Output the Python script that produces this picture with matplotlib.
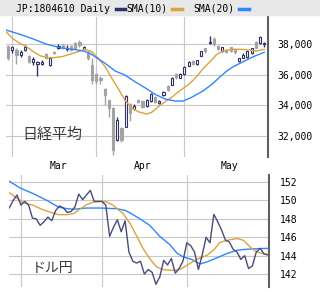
import matplotlib
matplotlib.use("Agg")
import matplotlib.pyplot as plt
from matplotlib.lines import Line2D
from matplotlib.patches import Rectangle

# --- Nikkei daily candles (index 0 = Feb 28 ... 61 = May 30) ---
nk_open = [37880, 37580, 37580, 37270, 37620, 37190, 36840, 36690, 36720, 37340,
           36640, 37490, 37710, 37900, 37650, 37850, 38050, 38140, 37670, 37380,
           36650, 36020, 35800, 35060, 34350, 33830, 31750, 32550, 32620, 34100,
           33750, 34350, 34290, 33960, 34290, 34560, 34140, 34700, 35280, 35320,
           36040, 35780, 36020, 36580, 36900, 36700, 37230, 37710, 38030, 38300,
           37860, 37550, 37600, 37800, 37640, 36880, 37060, 37160, 37380, 38140,
           38030, 37960]
nk_high = [37950, 37880, 37710, 37580, 37920, 37250, 37160, 36880, 36970, 37400,
           37150, 37530, 38000, 37980, 37920, 37900, 38100, 38230, 37850, 37500,
           37050, 36100, 35900, 35150, 34350, 33900, 33250, 32600, 34650, 34150,
           34100, 34400, 34350, 34400, 34780, 34600, 34350, 34950, 35300, 35850,
           36100, 36100, 36550, 36900, 36950, 36950, 37560, 37750, 38530, 38420,
           37900, 37800, 37650, 37820, 37650, 37100, 37400, 37560, 37750, 38200,
           38480, 38140]
nk_low = [36980, 37380, 36670, 37160, 37530, 36780, 36620, 35930, 36620, 37000,
          36560, 37330, 37650, 37650, 37550, 37550, 37650, 37800, 37600, 36950,
          35400, 35390, 35400, 34020, 33260, 30800, 31700, 31600, 32600, 33000,
          33700, 34150, 33850, 33900, 34250, 34150, 34100, 34600, 34950, 35300,
          35700, 35750, 35980, 36550, 36600, 36620, 37200, 37400, 38000, 37850,
          37600, 37480, 37400, 37440, 37350, 36850, 37050, 37100, 37350, 37700,
          38000, 37810]
nk_close = [37100, 37790, 37270, 37450, 37790, 36840, 37030, 36840, 36830, 37080,
            37080, 37380, 37860, 37730, 37720, 37600, 37710, 37920, 37800, 37100,
            35620, 35580, 35650, 34680, 33810, 31100, 33050, 31750, 34610, 33500,
            33980, 34240, 33920, 34350, 34740, 34200, 34290, 34870, 35000, 35750,
            35840, 36040, 36510, 36840, 36670, 36930, 37530, 37500, 38120, 38000,
            37640, 37770, 37450, 37500, 37450, 37080, 37300, 37530, 37710, 37720,
            38420, 38060]

# Nikkei moving averages (candle index, value)
nk_sma10_x = [-0.5, 1.2, 2.8, 4.4, 6.0, 7.6, 9.2, 10.8, 12.8, 14.7, 16.7, 18.3,
              19.9, 21.5, 23.1, 24.7, 26.2, 27.8, 29.4, 31.0, 33.0, 34.2, 35.8,
              37.4, 39.0, 40.1, 41.7, 43.3, 44.9, 46.5, 48.1, 49.7, 51.2, 53.2,
              55.2, 57.6, 59.2, 61.0]
nk_sma10 = [38786, 38312, 38030, 37812, 37487, 37227, 37098, 37098, 37162, 37318,
            37487, 37650, 37487, 37058, 36513, 35760, 35110, 34350, 33850, 33590,
            33441, 33550, 33915, 34240, 34530, 34785, 35110, 35435, 35863, 36409,
            36838, 37318, 37532, 37643, 37643, 37597, 37532, 37643]
nk_sma20_x = [-0.5, 2.8, 6.0, 9.2, 12.4, 15.5, 17.9, 19.5, 20.7, 23.1, 25.5, 27.8,
              30.2, 32.6, 35.0, 37.4, 39.7, 41.7, 43.7, 46.5, 48.9, 50.5, 52.1,
              53.6, 56.0, 58.4, 61.0]
nk_sma20 = [38896, 38617, 38312, 37968, 37747, 37643, 37532, 37383, 37162, 36734,
            36234, 35974, 35539, 35149, 34720, 34415, 34285, 34285, 34525, 34950,
            35450, 35863, 36234, 36513, 36838, 37162, 37448]

# --- USD/JPY daily close (index 0 = Mar 3, weekdays, -3 = Feb 26) ---
fx_x = list(range(-3, 65))
fx_close = [149.2, 150.0, 150.6, 149.5, 149.9, 149.5, 148.1, 148.0, 147.3, 147.7,
            148.2, 147.8, 148.9, 149.4, 149.2, 148.7, 148.8, 149.3, 150.7, 150.1,
            150.6, 151.1, 149.9, 149.9, 149.9, 149.5, 146.1, 147.1, 147.9, 146.6,
            147.8, 144.4, 143.4, 143.2, 143.4, 142.0, 142.5, 142.2, 140.9, 141.7,
            143.5, 143.0, 143.7, 142.1, 142.6, 143.4, 145.4, 145.1, 144.4, 142.5,
            144.1, 146.0, 145.4, 148.5, 147.7, 146.8, 145.7, 145.5, 144.7, 144.4,
            143.6, 144.0, 142.6, 142.9, 144.4, 144.8, 144.2, 144.1]
fx_sma10_x = [-3, -1.1, 0.6, 3.2, 5.4, 7.5, 9.7, 11.9, 13.6, 15.3, 17, 18.9, 20.9,
              22.2, 23.9, 26.5, 28.3, 30, 31.7, 33.5, 35.2, 37, 39.5, 41.3, 43,
              45.6, 48.2, 49.9, 51.6, 53.4, 56, 57.7, 59.4, 61.2, 62.9, 64]
fx_sma10 = [150.85, 150.27, 149.76, 149.48, 149.05, 148.75, 148.46, 148.46, 148.57,
            149.05, 149.54, 149.84, 149.91, 149.84, 149.48, 148.57, 147.5, 146.15,
            144.76, 143.61, 142.77, 142.48, 142.41, 142.52, 142.96, 143.61, 144.04,
            144.59, 145.45, 145.67, 145.87, 145.67, 144.95, 144.40, 144.22, 144.06]
fx_sma20_x = [-3, -0.2, 3.2, 6.7, 9.7, 11.9, 13.6, 17, 20.5, 24.8, 27, 28.5, 30.8,
              33.4, 36, 38.6, 40.4, 42.1, 44.2, 46.4, 48.2, 50.7, 53.3, 55.9, 58.5,
              61.1, 64]
fx_sma20 = [152.09, 151.36, 150.74, 150.02, 149.29, 149.11, 149.05, 149.18, 149.18,
            149.11, 148.93, 148.6, 148.02, 147.30, 146.1, 145.20, 144.3, 143.86,
            143.61, 143.1, 143.32, 143.75, 144.22, 144.59, 144.70, 144.76, 144.80]

nk_month_starts = [1, 21, 42]
fx_month_starts = [0, 21, 43]
month_labels = ["Mar", "Apr", "May"]
nk_yticks = [32000, 34000, 36000, 38000]
fx_yticks = [142, 144, 146, 148, 150, 152]

NAVY = "#31316a"
FXNAVY = "#4a4a7c"
GRAY = "#a3a3a3"
ORANGE = "#d9a33f"
BLUE = "#2f86ff"
GRID = "#c8c8c8"

plt.rcParams["font.family"] = ["DejaVu Sans Mono"]
plt.rcParams["font.size"] = 7

W, H = 320, 292
fig = plt.figure(figsize=(W / 100, H / 100), dpi=100)


def box(x0, y0, x1, y1):
    return [x0 / W, 1 - y1 / H, (x1 - x0) / W, (y1 - y0) / H]


def style(ax, month_pos, yticks, fmt):
    for s in ["left", "top", "bottom"]:
        ax.spines[s].set_visible(False)
    ax.spines["right"].set_color("#606060")
    ax.spines["right"].set_linewidth(1.5)
    ax.yaxis.tick_right()
    ax.set_yticks(yticks)
    ax.set_yticklabels([fmt(v) for v in yticks])
    ax.set_xticks(month_pos)
    ax.set_xticklabels([])
    ax.tick_params(axis="both", which="major", length=0)
    ax.tick_params(axis="y", pad=7, labelsize=7)
    ax.grid(True, which="major", color=GRID, lw=0.8)
    ax.set_axisbelow(True)


# header band with legend
fig.patches.append(Rectangle((0, 1 - 15 / H), 1, 15 / H, transform=fig.transFigure,
                             color="#e8e8e8", zorder=0))
hy = 1 - 8.5 / H
fig.text(16 / W, hy, "JP:1804610 Daily", va="center", ha="left", fontsize=7)
fig.text(126 / W, hy, "SMA(10)", va="center", ha="left", fontsize=7)
fig.text(193 / W, hy, "SMA(20)", va="center", ha="left", fontsize=7)
for (a, b), c in zip([(116, 125), (172, 182), (239, 249)], [NAVY, ORANGE, BLUE]):
    fig.lines.append(Line2D([a / W, b / W], [hy, hy], transform=fig.transFigure,
                            color=c, lw=2.5))

# --- Nikkei panel ---
ax1 = fig.add_axes(box(6, 17, 268, 157))
style(ax1, nk_month_starts, nk_yticks, lambda v: f"{v:,}")
ax1.set_xlim(-0.5, 61.9)
ax1.set_ylim(30650, 39740)

idx = list(range(len(nk_close)))
for i in idx:
    o, h, l, c = nk_open[i], nk_high[i], nk_low[i], nk_close[i]
    up = c >= o
    col = NAVY if up else GRAY
    ax1.vlines(i, l, h, color=col, lw=1.0, zorder=2)
    bot = min(o, c)
    hgt = max(abs(c - o), 40)
    ax1.bar(i, hgt, bottom=bot, width=0.5, color="white" if up else GRAY,
            edgecolor=col, lw=0.8, zorder=3)

ax1.plot(nk_sma10_x, nk_sma10, color=ORANGE, lw=1.0, zorder=4)
ax1.plot(nk_sma20_x, nk_sma20, color=BLUE, lw=1.0, zorder=4)

ax1.set_xticks([11.9, 32, 52.8], minor=True)
ax1.set_xticklabels(month_labels, minor=True)
ax1.tick_params(axis="x", which="minor", length=0, pad=3, labelsize=7)

fig.text(22 / W, 1 - 135 / H, "日経平均", va="center", ha="left", fontsize=10.8,
         family=["Noto Sans CJK JP", "DejaVu Sans"], color="#3a3a3a")

# --- USD/JPY panel ---
ax2 = fig.add_axes(box(9.3, 175, 269, 287))
style(ax2, fx_month_starts, fx_yticks, lambda v: f"{v}")
ax2.set_xlim(-3.0, 64.3)
ax2.set_ylim(140.6, 152.77)
ax2.tick_params(axis="y", pad=8)

ax2.plot(fx_sma20_x, fx_sma20, color=BLUE, lw=1.0, zorder=3)
ax2.plot(fx_sma10_x, fx_sma10, color=ORANGE, lw=1.0, zorder=3)
ax2.plot(fx_x, fx_close, color=FXNAVY, lw=1.0, zorder=4)

fig.text(32 / W, 1 - 268 / H, "ドル円", va="center", ha="left", fontsize=10,
         family=["Noto Sans CJK JP", "DejaVu Sans"], color="#3a3a3a")

fig.savefig("out.png", dpi=100, facecolor="white")
